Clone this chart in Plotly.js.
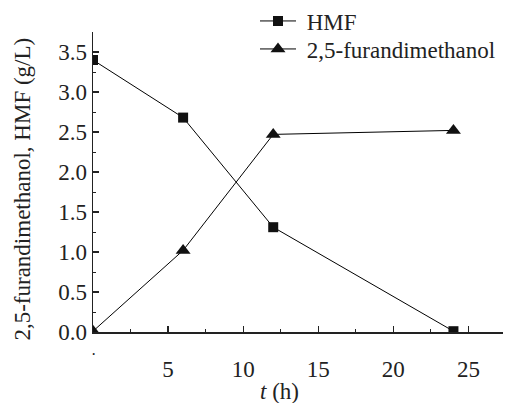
<!DOCTYPE html>
<html>
<head>
<meta charset="utf-8">
<script src="https://cdn.plot.ly/plotly-3.0.1.min.js"></script>
<style>html,body{margin:0;padding:0;background:#fff}#chart{width:505px;height:403px}</style>
</head>
<body>
<div id="chart"></div>
<script>
const time = [0, 6, 12, 24];
const hmf = [3.40, 2.68, 1.31, 0.01];
const dhmf = [0.01, 1.02, 2.47, 2.52];
const seriesNames = ['HMF', '2,5-furandimethanol'];
const xTickVals = [0, 5, 10, 15, 20, 25];
const xTickText = ['', '5', '10', '15', '20', '25'];
const yTickVals = [0, 0.5, 1, 1.5, 2, 2.5, 3, 3.5];
const yTickText = ['0.0', '0.5', '1.0', '1.5', '2.0', '2.5', '3.0', '3.5'];

const FONT = '"Liberation Serif", "Times New Roman", serif';
const traces = [
  {x: time, y: hmf, name: '\u00a0' + seriesNames[0], mode: 'lines+markers', legend: 'legend',
   line: {color: '#000', width: 1},
   marker: {symbol: 'square', size: 10, color: '#111'}},
  {x: time, y: dhmf, name: '\u00a0' + seriesNames[1], mode: 'lines+markers', legend: 'legend2',
   line: {color: '#000', width: 1},
   marker: {symbol: 'triangle-up', size: 13, color: '#111'}}
];
const legBase = {xref: 'container', yref: 'container', xanchor: 'left', yanchor: 'middle',
  bgcolor: 'rgba(0,0,0,0)', itemwidth: 36, font: {family: FONT, size: 23, color: '#222'}};
const layout = {
  width: 505, height: 403,
  margin: {l: 93, r: 2, t: 32, b: 71, autoexpand: false},
  paper_bgcolor: '#fff', plot_bgcolor: 'rgba(0,0,0,0)',
  font: {family: FONT, size: 23, color: '#222'},
  showlegend: true,
  legend: Object.assign({}, legBase, {x: 255/505, y: 1 - 21/403}),
  legend2: Object.assign({}, legBase, {x: 255/505, y: 1 - 49/403}),
  xaxis: {range: [0, 27.3], showline: true, linecolor: '#222', linewidth: 1.5,
          showgrid: false, zeroline: false, ticks: 'inside', ticklen: 6, tickwidth: 1.2,
          tickcolor: '#222', tickvals: xTickVals, ticktext: xTickText,
          ticklabelstandoff: 16, layer: 'above traces',
          minor: {ticks: 'inside', ticklen: 3, tickwidth: 1, tickcolor: '#222', dtick: 2.5, tick0: 0},
          tickfont: {family: FONT, size: 23, color: '#222'}},
  yaxis: {range: [0, 3.75], showline: true, linecolor: '#222', linewidth: 1.5,
          showgrid: false, zeroline: false, ticks: 'inside', ticklen: 6, tickwidth: 1.2,
          tickcolor: '#222', tickvals: yTickVals, ticktext: yTickText, layer: 'above traces',
          minor: {ticks: 'inside', ticklen: 3, tickwidth: 1, tickcolor: '#222', dtick: 0.25, tick0: 0},
          tickfont: {family: FONT, size: 23, color: '#222'}},
  annotations: [
    {text: '<i>t</i> (h)', xref: 'paper', yref: 'paper', x: 0.454, y: -0.15,
     xanchor: 'center', yanchor: 'top', showarrow: false,
     font: {family: FONT, size: 23, color: '#222'}},
    {text: '2,5-furandimethanol, HMF (g/L)', xref: 'paper', yref: 'paper',
     x: -0.173, y: 0.475, xanchor: 'center', yanchor: 'middle', textangle: -90, showarrow: false,
     font: {family: FONT, size: 23, color: '#222'}},
    {text: '·', xref: 'x', yref: 'paper', x: 0, y: -0.04,
     xanchor: 'center', yanchor: 'top', showarrow: false,
     font: {family: FONT, size: 16, color: '#222'}}
  ]
};
Plotly.newPlot('chart', traces, layout, {displayModeBar: false, staticPlot: true});
</script>
</body>
</html>
